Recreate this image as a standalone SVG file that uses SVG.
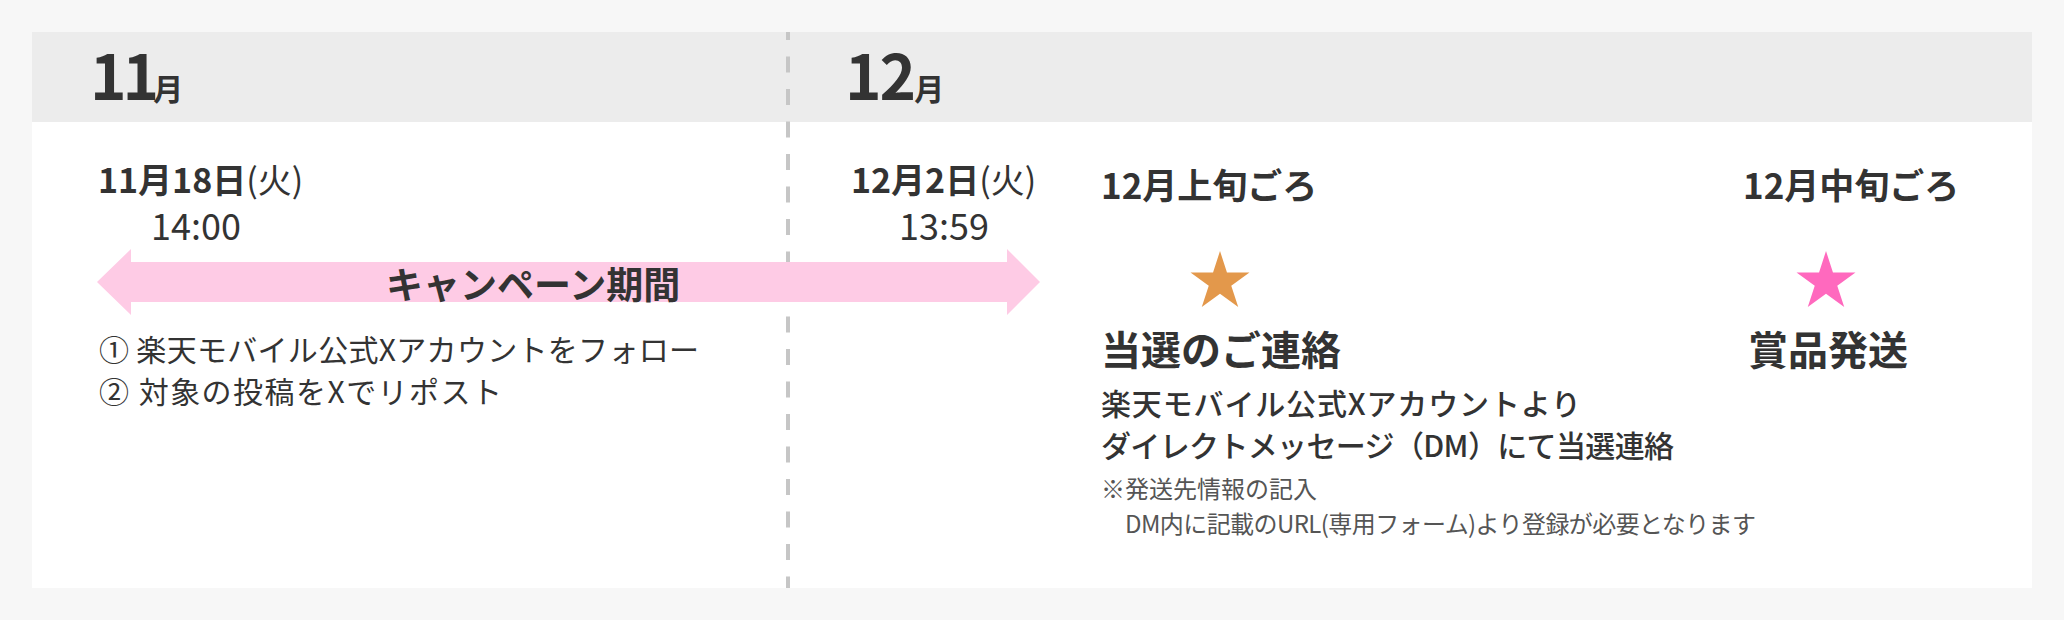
<svg xmlns="http://www.w3.org/2000/svg" width="2064" height="620" viewBox="0 0 2064 620">
<defs>
<style>
text{font-family:"Noto Sans CJK JP","Noto Sans",sans-serif;fill:#333;}
.b{font-weight:700;}
.m{font-weight:500;}
.r{font-weight:400;}
.mon{font-size:62px;font-weight:700;}
.monj{font-size:30px;font-weight:700;}
.date{font-size:34px;font-weight:700;}
.time{font-size:36px;font-weight:400;}
.when{font-size:35px;font-weight:700;}
.head{font-size:40px;font-weight:700;}
.sub{font-size:30px;font-weight:500;}
.list{font-size:30px;font-weight:400;}
.note{font-size:24px;font-weight:400;fill:#555;}
</style>
<path id="star" d="M0,-31 L6.96,-9.58 L29.48,-9.58 L11.26,3.66 L18.22,25.08 L0,11.84 L-18.22,25.08 L-11.26,3.66 L-29.48,-9.58 L-6.96,-9.58 Z"/>
</defs>
<rect x="0" y="0" width="2064" height="620" fill="#f7f7f7"/>
<g id="card">
<rect x="32" y="32" width="2000" height="556" fill="#ffffff"/>
<rect x="32" y="32" width="2000" height="90" fill="#ececec"/>
</g>
<g id="connectors">
<line x1="788" y1="32" x2="788" y2="588" stroke="#c6c6c6" stroke-width="4" stroke-dasharray="16 16.5" stroke-dashoffset="8"/>
<polygon points="97,282 131,249 131,262 1007,262 1007,249 1040,282 1007,315 1007,302 131,302 131,315" fill="#fecbe5"/>
</g>
<g id="month-nov">
<text x="90" y="100"><tspan class="mon" letter-spacing="-4">11</tspan><tspan class="monj" dx="-2">月</tspan></text>
</g>
<g id="month-dec">
<text x="845" y="100"><tspan class="mon" letter-spacing="-2">12</tspan><tspan class="monj">月</tspan></text>
</g>
<g id="start">
<text x="98" y="193" class="date">11月18日<tspan class="r">(火)</tspan></text>
<text x="151" y="240" class="time">14:00</text>
</g>
<g id="end">
<text x="851" y="193" class="date">12月2日<tspan class="r">(火)</tspan></text>
<text x="899" y="240" class="time">13:59</text>
</g>
<g id="campaign">
<text x="386" y="299" font-size="37" class="b">キャンペーン期間</text>
</g>
<g id="steps">
<text x="99" y="361" class="list" textLength="600" lengthAdjust="spacing">① 楽天モバイル公式Xアカウントをフォロー</text>
<text x="99" y="403" class="list" textLength="403" lengthAdjust="spacing">② 対象の投稿をXでリポスト</text>
</g>
<g id="win">
<text x="1101" y="199" class="when">12月上旬ごろ</text>
<use href="#star" x="1220" y="282" fill="#e3984b"/>
<text x="1101" y="365" class="head">当選のご連絡</text>
<text x="1101" y="415" class="sub" textLength="480" lengthAdjust="spacing">楽天モバイル公式Xアカウントより</text>
<text x="1101" y="457" class="sub" textLength="573" lengthAdjust="spacing">ダイレクトメッセージ（DM）にて当選連絡</text>
<text x="1101" y="498" class="note">※発送先情報の記入</text>
<text x="1125" y="533" class="note" textLength="631" lengthAdjust="spacing">DM内に記載のURL(専用フォーム)より登録が必要となります</text>
</g>
<g id="ship">
<text x="1743" y="199" class="when">12月中旬ごろ</text>
<use href="#star" x="1826" y="282" fill="#ff69be"/>
<text x="1748" y="365" class="head">賞品発送</text>
</g>
</svg>
